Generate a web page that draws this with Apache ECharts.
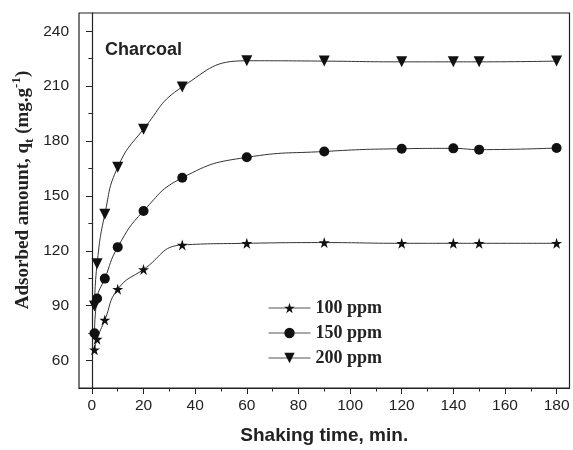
<!DOCTYPE html>
<html>
<head>
<meta charset="utf-8">
<script src="https://cdn.jsdelivr.net/npm/echarts@6/dist/echarts.min.js"></script>
<style>html,body{margin:0;padding:0;background:#fff}#c{width:573px;height:450px}</style>
</head>
<body>
<div id="c"></div>
<script>
// ---- data ----
var time = [1, 2, 5, 10, 20, 35, 60, 90, 120, 140, 150, 180];
var q100 = [65.9, 71.7, 82.2, 99.0, 109.8, 123.2, 124.1, 124.5, 124.1, 124.1, 124.1, 124.1];
var q150 = [74.9, 93.9, 104.8, 122.0, 141.8, 159.9, 171.1, 174.3, 175.8, 176.0, 175.3, 176.2];
var q200 = [89.8, 112.9, 140.0, 165.7, 186.5, 209.6, 223.9, 223.7, 223.3, 223.3, 223.3, 223.7];
var seriesNames = ['100 ppm', '150 ppm', '200 ppm'];
var xMajor = [0, 20, 40, 60, 80, 100, 120, 140, 160, 180];
var xMinor = [10, 30, 50, 70, 90, 110, 130, 150, 170];
var yMajor = [60, 90, 120, 150, 180, 210, 240];
var yMinor = [75, 105, 135, 165, 195, 225];

function pairs(xs, ys) { return xs.map(function (x, i) { return [x, ys[i]]; }); }

var STAR = 'path://M50,0 L61.2,34.5 L97.6,34.5 L68.2,55.9 L79.4,90.5 L50,69.1 L20.6,90.5 L31.8,55.9 L2.4,34.5 L38.8,34.5 Z';
var ink = '#222';
var sans = 'Liberation Sans, Arial, sans-serif';
var serif = 'Liberation Serif, Times New Roman, serif';

function mkSeries(name, data, symbol, size, rotate) {
  return {
    name: name, type: 'line', xAxisIndex: 0, yAxisIndex: 0,
    data: pairs(time, data),
    smooth: 0.5,
    symbol: symbol, symbolSize: size, symbolRotate: rotate || 0,
    showAllSymbol: true,
    lineStyle: { color: '#333', width: 1 },
    itemStyle: { color: '#111', borderWidth: 0 },
    emphasis: { disabled: true },
    z: 3
  };
}

var chart = echarts.init(document.getElementById('c'), null, { renderer: 'canvas' });
chart.setOption({
  animation: false,
  backgroundColor: '#fff',
  title: {
    text: 'Charcoal', left: 105, top: 41, padding: 0,
    textStyle: { fontFamily: sans, fontWeight: 'bold', fontSize: 18, color: ink }
  },
  legend: {
    orient: 'vertical', left: 268, top: 299, padding: 0,
    itemWidth: 42, itemHeight: 13, itemGap: 7,
    data: seriesNames,
    lineStyle: { width: 1, color: '#555' },
    textStyle: { fontFamily: serif, fontWeight: 'bold', fontSize: 18, color: ink }
  },
  grid: {
    left: 79, right: 3.5, top: 13, bottom: 57,
    show: true, borderColor: ink, borderWidth: 1.2, backgroundColor: 'transparent'
  },
  xAxis: [{
    type: 'value', min: -5, max: 185, position: 'bottom',
    name: 'Shaking time, min.', nameLocation: 'middle', nameGap: 38,
    nameTextStyle: { fontFamily: sans, fontWeight: 'bold', fontSize: 19, color: ink },
    axisLine: { show: true, lineStyle: { color: ink, width: 1.2 } },
    axisTick: { show: true, customValues: xMajor, length: 6, lineStyle: { color: ink, width: 1 } },
    axisLabel: { customValues: xMajor, margin: 10, fontFamily: sans, fontSize: 15.5, color: ink },
    splitLine: { show: false }
  }, {
    type: 'value', min: -5, max: 185, position: 'bottom', gridIndex: 0,
    axisLine: { show: false },
    axisTick: { show: true, customValues: xMinor, length: 3.5, lineStyle: { color: ink, width: 1 } },
    axisLabel: { show: false },
    splitLine: { show: false }
  }],
  yAxis: [{
    type: 'value', min: 45, max: 250, position: 'left',
    axisLine: { show: true, lineStyle: { color: ink, width: 1.2 } },
    axisTick: { show: true, customValues: yMajor, length: 6, lineStyle: { color: ink, width: 1 } },
    axisLabel: { customValues: yMajor, margin: 10, fontFamily: sans, fontSize: 15.5, color: ink },
    splitLine: { show: false }
  }, {
    type: 'value', min: 45, max: 250, position: 'left', gridIndex: 0,
    axisLine: { show: false },
    axisTick: { show: true, customValues: yMinor, length: 3.5, lineStyle: { color: ink, width: 1 } },
    axisLabel: { show: false },
    splitLine: { show: false }
  }],
  graphic: [{
    type: 'text', x: 23, y: 190, rotation: Math.PI / 2,
    style: {
      text: '{a|Adsorbed amount, q}{sub|t}{a| (mg.g}{sup|-1}{a|)}',
      align: 'center', verticalAlign: 'middle', fill: ink,
      rich: {
        a: { fontFamily: serif, fontWeight: 'bold', fontSize: 19, lineHeight: 26, verticalAlign: 'middle', fill: ink },
        sub: { fontFamily: serif, fontWeight: 'bold', fontSize: 13, lineHeight: 26, verticalAlign: 'bottom', fill: ink },
        sup: { fontFamily: serif, fontWeight: 'bold', fontSize: 13, lineHeight: 26, verticalAlign: 'top', fill: ink }
      }
    }
  }],
  series: [
    mkSeries(seriesNames[0], q100, STAR, 11, 0),
    mkSeries(seriesNames[1], q150, 'circle', 10, 0),
    mkSeries(seriesNames[2], q200, 'triangle', 11, 180)
  ]
});
</script>
</body>
</html>
